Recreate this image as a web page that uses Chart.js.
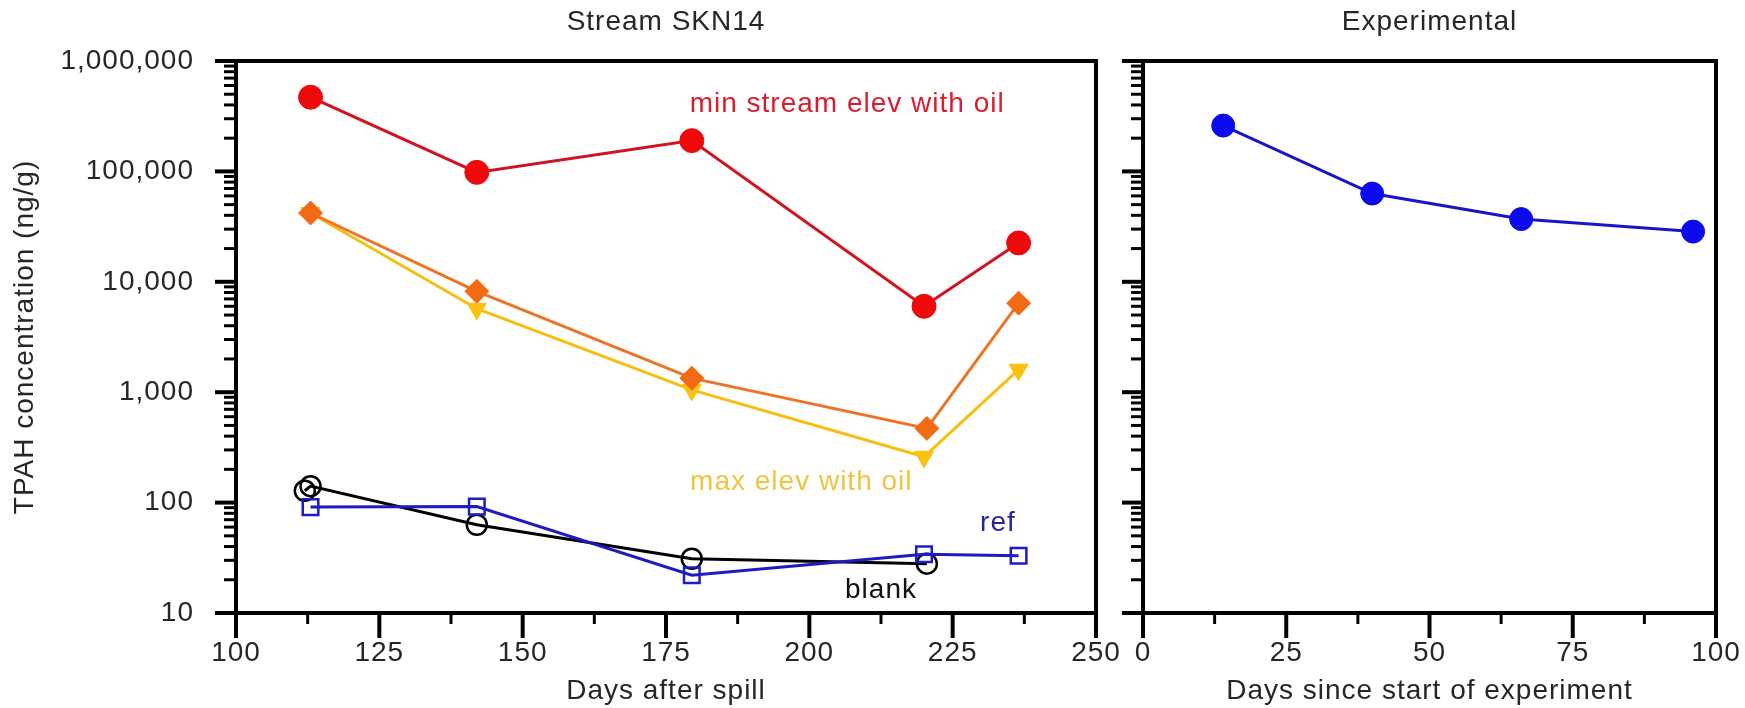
<!DOCTYPE html>
<html>
<head>
<meta charset="utf-8">
<script src="https://cdn.jsdelivr.net/npm/chart.js@4.4.1/dist/chart.umd.min.js"></script>
<style>
  html, body { margin: 0; padding: 0; background: #ffffff; }
  #wrap { position: relative; width: 1745px; height: 708px; overflow: hidden; }
  #left { position: absolute; left: 0; top: 0; }
  #right { position: absolute; left: 1105px; top: 0; }
</style>
</head>
<body>
<div id="wrap">
  <canvas id="left" width="1140" height="708"></canvas>
  <canvas id="right" width="640" height="708"></canvas>
</div>
<script>
// ---- Stream SKN14: TPAH (ng/g) by days after spill ----
const minStreamDays = [113, 142, 179.5, 220, 236.5];
const minStreamTpah = [470000, 98000, 190000, 6000, 22500];

const midDays = [113, 142, 179.5, 220.5, 236.5];
const midTpah = [42000, 8200, 1340, 470, 6400];

const maxElevDays = [113, 142, 179.5, 220, 236.5];
const maxElevTpah = [42000, 5700, 1050, 260, 1600];

const refDays = [113, 142, 179.5, 220, 236.5];
const refTpah = [91, 92, 22, 34, 33];

const blankDays = [112, 113, 142, 179.5, 220.5];
const blankTpah = [128, 141, 63, 31, 28];

// ---- Experimental: TPAH (ng/g) by days since start ----
const expDays = [14, 40, 66, 96];
const expTpah = [260000, 63000, 37000, 28500];

// ---- axis ticks ----
const yTickValues = [10, 100, 1000, 10000, 100000, 1000000];
const yTickLabels = ['10', '100', '1,000', '10,000', '100,000', '1,000,000'];
const streamXTicks = [100, 125, 150, 175, 200, 225, 250];
const streamXMinor = [112.5, 137.5, 162.5, 187.5, 212.5, 237.5];
const expXTicks = [0, 25, 50, 75, 100];
const expXMinor = [12.5, 37.5, 62.5, 87.5];

// ---- series notes placed in data units ----
const streamNotes = [
  { text: 'min stream elev with oil', day: 206.6, tpah: 408000, color: '#dc1c2c' },
  { text: 'max elev with oil', day: 198.6, tpah: 154, color: '#f0c440' },
  { text: 'ref', day: 232.9, tpah: 65, color: '#23239e' },
  { text: 'blank', day: 212.5, tpah: 16, color: '#111111' }
];

const FONT = '"Liberation Sans", Arial, sans-serif';
Chart.defaults.font.family = FONT;
Chart.defaults.font.size = 28;
Chart.defaults.color = '#262626';

const pts = (xs, ys) => xs.map((x, i) => ({ x: x, y: ys[i] }));

// Box frame plus outward tick marks drawn from the chart's own scales
const frameTicks = {
  id: 'frameTicks',
  beforeDraw(chart) {
    chart.ctx.letterSpacing = '1px';
  },
  beforeDatasetsDraw(chart, args, opts) {
    const { ctx, chartArea: a, scales } = chart;
    const xs = scales.x, ys = scales.y;
    ctx.save();
    ctx.letterSpacing = '0px';
    ctx.strokeStyle = '#000';
    ctx.lineCap = 'butt';
    ctx.lineWidth = 4;
    ctx.strokeRect(a.left, a.top, a.right - a.left, a.bottom - a.top);
    // y: decades and their 2..9 subdivisions
    for (let d = ys.min; d <= ys.max * 1.0001; d *= 10) {
      const py = ys.getPixelForValue(d);
      ctx.lineWidth = 4;
      ctx.beginPath(); ctx.moveTo(a.left - 21, py); ctx.lineTo(a.left, py); ctx.stroke();
      if (d < ys.max) {
        ctx.lineWidth = 3;
        for (let m = 2; m <= 9; m++) {
          const pm = ys.getPixelForValue(d * m);
          ctx.beginPath(); ctx.moveTo(a.left - 12, pm); ctx.lineTo(a.left, pm); ctx.stroke();
        }
      }
    }
    // x: major and mid-step ticks
    ctx.lineWidth = 4;
    opts.major.forEach(v => {
      const px = xs.getPixelForValue(v);
      ctx.beginPath(); ctx.moveTo(px, a.bottom); ctx.lineTo(px, a.bottom + 25); ctx.stroke();
    });
    ctx.lineWidth = 3;
    opts.minor.forEach(v => {
      const px = xs.getPixelForValue(v);
      ctx.beginPath(); ctx.moveTo(px, a.bottom); ctx.lineTo(px, a.bottom + 11); ctx.stroke();
    });
    ctx.restore();
  },
  afterDatasetsDraw(chart, args, opts) {
    if (!opts.notes) return;
    const { ctx, scales } = chart;
    ctx.save();
    ctx.font = '28px ' + FONT;
    ctx.letterSpacing = '1px';
    ctx.textAlign = 'center';
    ctx.textBaseline = 'middle';
    opts.notes.forEach(n => {
      ctx.fillStyle = n.color;
      ctx.fillText(n.text, scales.x.getPixelForValue(n.day), scales.y.getPixelForValue(n.tpah));
    });
    ctx.restore();
  }
};

function yScale(showLabels, title) {
  return {
    type: 'logarithmic',
    min: 10,
    max: 1000000,
    grid: { display: false },
    border: { display: false },
    afterBuildTicks: s => { s.ticks = yTickValues.map(v => ({ value: v })); },
    afterFit: s => {
      s.width = showLabels ? 236 : 38;
      s.paddingTop = 0; s.paddingBottom = 0;
    },
    ticks: {
      display: showLabels,
      padding: 34,
      color: '#262626',
      font: { size: 28 },
      callback: (v, i) => yTickLabels[i]
    },
    title: title ? { display: true, text: title, color: '#262626', font: { size: 28 }, padding: { top: 8, bottom: 0 } } : { display: false }
  };
}

function xScale(min, max, ticks, title) {
  return {
    type: 'linear',
    min: min,
    max: max,
    grid: { display: false },
    border: { display: false },
    afterBuildTicks: s => { s.ticks = ticks.map(v => ({ value: v })); },
    afterFit: s => {
      s.height = 95;
      s.paddingLeft = 0; s.paddingRight = 0;
    },
    ticks: { padding: 15, color: '#262626', font: { size: 28 }, maxRotation: 0 },
    title: { display: true, text: title, color: '#262626', font: { size: 28 }, padding: { top: 0, bottom: 0 } }
  };
}

function panelTitle(text) {
  return {
    display: true,
    text: text,
    fullSize: false,
    color: '#262626',
    font: { size: 28, weight: 'normal' },
    padding: { top: 5, bottom: 22.4 }
  };
}

new Chart(document.getElementById('left'), {
  type: 'scatter',
  data: {
    datasets: [
      {
        label: 'min stream elev with oil',
        data: pts(minStreamDays, minStreamTpah),
        showLine: true,
        borderColor: '#d3121f',
        borderWidth: 3,
        pointStyle: 'circle',
        pointRadius: 12,
        pointBackgroundColor: '#ee0a0a',
        pointBorderColor: '#ee0a0a',
        pointBorderWidth: 1
      },
      {
        label: 'mid elev with oil',
        data: pts(midDays, midTpah),
        showLine: true,
        borderColor: '#ee7326',
        borderWidth: 3,
        pointStyle: 'rectRot',
        pointRadius: 12,
        pointBackgroundColor: '#f26a14',
        pointBorderColor: '#f26a14',
        pointBorderWidth: 1
      },
      {
        label: 'max elev with oil',
        data: pts(maxElevDays, maxElevTpah),
        showLine: true,
        borderColor: '#f7bd12',
        borderWidth: 3,
        pointStyle: 'triangle',
        pointRotation: 180,
        pointRadius: 11,
        pointBackgroundColor: '#fcc010',
        pointBorderColor: '#fcc010',
        pointBorderWidth: 1
      },
      {
        label: 'ref',
        data: pts(refDays, refTpah),
        showLine: true,
        borderColor: '#1c1cc0',
        borderWidth: 3,
        pointStyle: 'rect',
        pointRadius: 11,
        pointBackgroundColor: 'rgba(255,255,255,0)',
        pointBorderColor: '#1c1cc8',
        pointBorderWidth: 2.5
      },
      {
        label: 'blank',
        data: pts(blankDays, blankTpah),
        showLine: true,
        borderColor: '#000000',
        borderWidth: 3,
        pointStyle: 'circle',
        pointRadius: 10,
        pointBackgroundColor: 'rgba(255,255,255,0)',
        pointBorderColor: '#000000',
        pointBorderWidth: 2.5
      }
    ]
  },
  options: {
    responsive: false,
    animation: false,
    layout: { padding: { top: 0, right: 44, bottom: 0, left: 0 } },
    scales: {
      x: xScale(100, 250, streamXTicks, 'Days after spill'),
      y: yScale(true, 'TPAH concentration (ng/g)')
    },
    plugins: {
      legend: { display: false },
      tooltip: { enabled: false },
      title: panelTitle('Stream SKN14'),
      frameTicks: { major: streamXTicks, minor: streamXMinor, notes: streamNotes }
    }
  },
  plugins: [frameTicks]
});

new Chart(document.getElementById('right'), {
  type: 'scatter',
  data: {
    datasets: [
      {
        label: 'Experimental',
        data: pts(expDays, expTpah),
        showLine: true,
        borderColor: '#1616c8',
        borderWidth: 3,
        pointStyle: 'circle',
        pointRadius: 11.5,
        pointBackgroundColor: '#0b0bee',
        pointBorderColor: '#0b0bee',
        pointBorderWidth: 1
      }
    ]
  },
  options: {
    responsive: false,
    animation: false,
    layout: { padding: { top: 0, right: 29, bottom: 0, left: 0 } },
    scales: {
      x: xScale(0, 100, expXTicks, 'Days since start of experiment'),
      y: yScale(false, null)
    },
    plugins: {
      legend: { display: false },
      tooltip: { enabled: false },
      title: panelTitle('Experimental'),
      frameTicks: { major: expXTicks, minor: expXMinor, notes: null }
    }
  },
  plugins: [frameTicks]
});
</script>
</body>
</html>
